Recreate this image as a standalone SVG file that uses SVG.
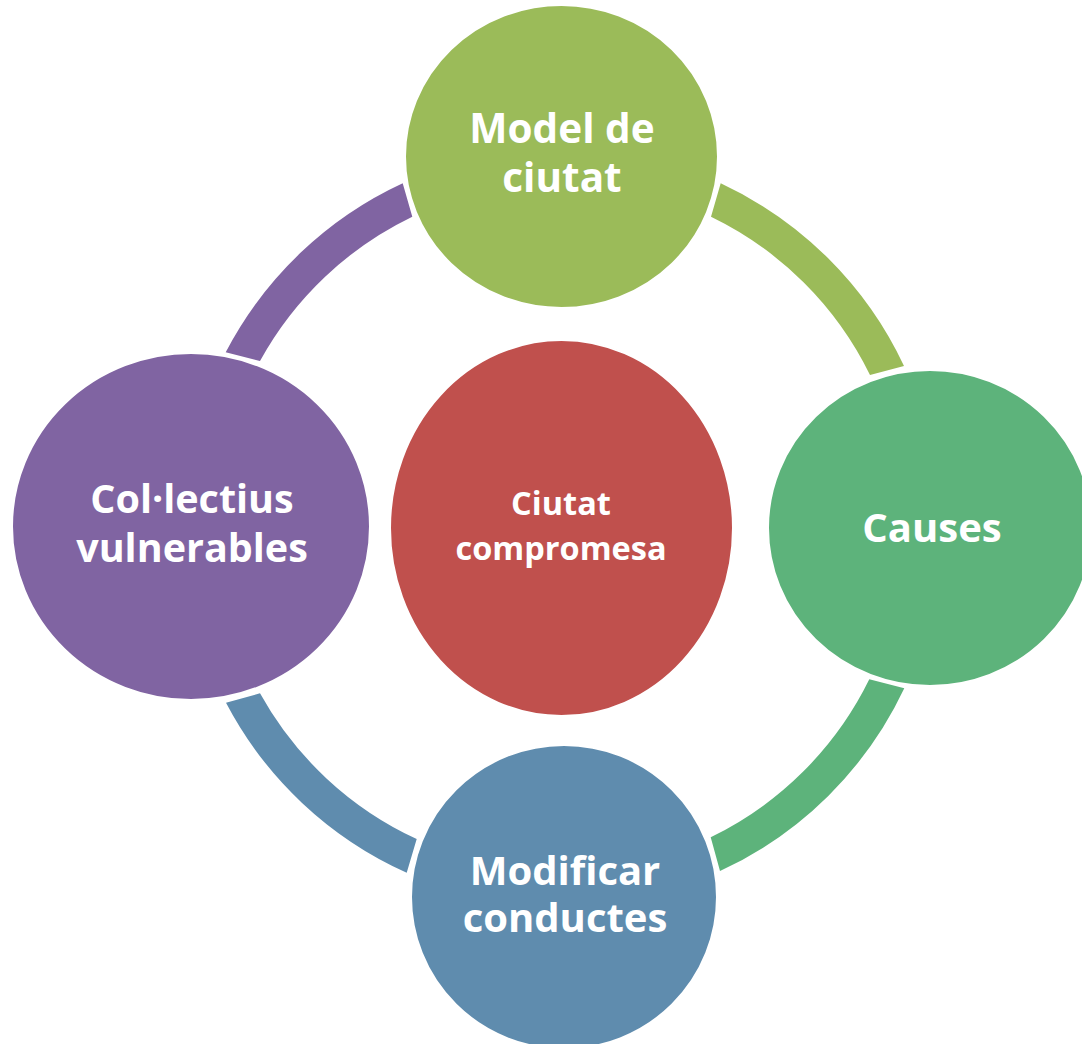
<svg xmlns="http://www.w3.org/2000/svg" width="1082" height="1044" viewBox="0 0 1082 1044">
<style>
.t{font-family:"Open Sans","Noto Sans","Liberation Sans",sans-serif;font-weight:bold;fill:#fff;text-anchor:middle}
.n{stroke:#fff;stroke-width:2}
</style>
<rect width="1082" height="1044" fill="#fff"/>
<g id="connectors">
<path d="M720.7,183.3 A379,379 0 0 1 904,366 L870,375 A344,344 0 0 0 711,216.7 Z" fill="#9BBB59"/>
<path d="M904.3,688.3 A379,379 0 0 1 720,871 L710.7,837.3 A344,344 0 0 0 869.3,679.3 Z" fill="#5DB37B"/>
<path d="M406.7,872.7 A379,379 0 0 1 226,702.7 L260,693.3 A344,344 0 0 0 416.7,839 Z" fill="#5F8CAE"/>
<path d="M225.7,352.3 A379,379 0 0 1 402.7,183.3 L412.3,216.7 A344,344 0 0 0 260,361 Z" fill="#8064A2"/>
</g>
<g id="center">
<ellipse class="n" cx="561.5" cy="528" rx="171.5" ry="188" fill="#C0504D"/>
<text class="t" x="561" y="515" font-size="32.5">Ciutat</text>
<text class="t" x="561" y="560" font-size="32.5">compromesa</text>
</g>
<g id="top">
<ellipse class="n" cx="561.5" cy="156.5" rx="156.5" ry="151.5" fill="#9BBB59"/>
<text class="t" x="562" y="143" font-size="40.5">Model de</text>
<text class="t" x="562" y="192" font-size="40.5">ciutat</text>
</g>
<g id="right">
<ellipse class="n" cx="930" cy="528" rx="162" ry="158" fill="#5DB37B"/>
<text class="t" x="932" y="542" font-size="40">Causes</text>
</g>
<g id="bottom">
<ellipse class="n" cx="564" cy="897" rx="153" ry="152" fill="#5F8CAE"/>
<text class="t" x="565" y="885" font-size="40">Modificar</text>
<text class="t" x="565" y="932" font-size="40">conductes</text>
</g>
<g id="left">
<ellipse class="n" cx="191" cy="526.5" rx="179" ry="173.5" fill="#8064A2"/>
<text class="t" x="192" y="513" font-size="39.5">Col·lectius</text>
<text class="t" x="192" y="562" font-size="39.5">vulnerables</text>
</g>
</svg>
